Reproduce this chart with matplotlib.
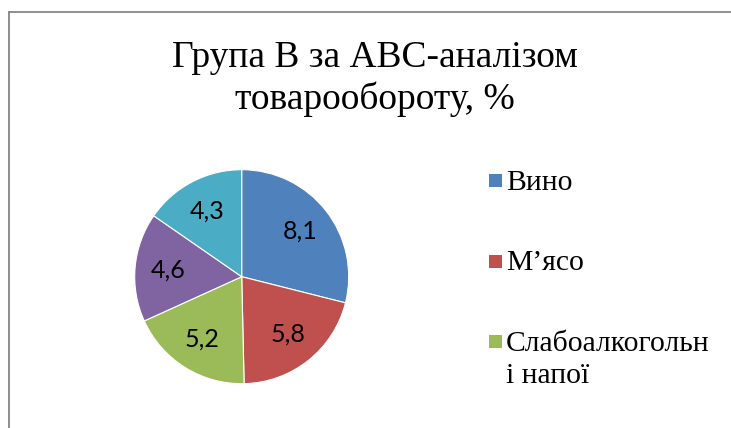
import matplotlib
matplotlib.use("Agg")
import matplotlib.pyplot as plt
from matplotlib.lines import Line2D
from matplotlib.patches import Rectangle

# shares of group B in turnover, %
values = [8.1, 5.8, 5.2, 4.6, 4.3]
value_labels = ["8,1", "5,8", "5,2", "4,6", "4,3"]
legend_names = ["Вино", "М’ясо", "Слабоалкогольн\nі напої"]
colors = ["#4F81BD", "#C0504D", "#9BBB59", "#8064A2", "#4BACC6"]

W, H = 731, 428
fig = plt.figure(figsize=(W / 100, H / 100), dpi=100)
fig.patch.set_facecolor("white")

# chart area border (left and top edges are the only ones in frame)
fig.add_artist(Line2D([8.5 / W, 8.5 / W], [0, 1 - 11.5 / H], color="#868686", lw=1.3,
                      transform=fig.transFigure))
fig.add_artist(Line2D([8.5 / W, 1], [1 - 11.5 / H, 1 - 11.5 / H], color="#868686", lw=1.3,
                      transform=fig.transFigure))

# title, two lines
title_font = dict(family="Liberation Serif", size=27, color="black")
fig.text(375 / W, 1 - 67 / H, "Група В за АВС-аналізом", ha="center", va="baseline", **title_font)
fig.text(375 / W, 1 - 109 / H, "товарообороту, %", ha="center", va="baseline", **title_font)

# pie
cx, cy, r = 241.7, 276.7, 107
ax = fig.add_axes([(cx - r) / W, 1 - (cy + r) / H, 2 * r / W, 2 * r / H])
wedges, texts = ax.pie(values, colors=colors, startangle=90, counterclock=False,
                       labels=value_labels, labeldistance=0.69,
                       wedgeprops=dict(edgecolor="white", linewidth=0.8),
                       textprops=dict(family="Lato", size=18, color="black",
                                      ha="center", va="center"))
ax.set_xlim(-1, 1)
ax.set_ylim(-1, 1)
ax.set_aspect("equal")
ax.axis("off")

# legend: square key aligned with the first text line, only first three keys fit
for i, name in enumerate(legend_names):
    base = 190 + i * 80.5
    fig.add_artist(Rectangle((489 / W, 1 - (base - 3) / H), 13 / W, 13 / H,
                             facecolor=wedges[i].get_facecolor(), edgecolor="none",
                             transform=fig.transFigure))
    first, *rest = name.split("\n")
    fig.text(506 / W, 1 - base / H, first, ha="left", va="baseline",
             family="Liberation Serif", size=21.3)
    for j, line in enumerate(rest, start=1):
        fig.text(506 / W, 1 - (base + 32 * j) / H, line, ha="left", va="baseline",
                 family="Liberation Serif", size=21.3)

fig.savefig("out.png", dpi=100)
